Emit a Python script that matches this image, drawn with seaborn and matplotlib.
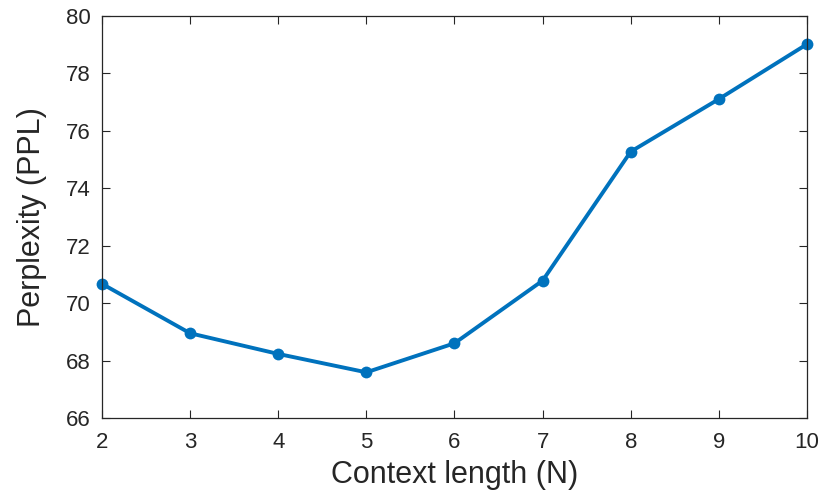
import pandas as pd
import matplotlib.pyplot as plt
import seaborn as sns

# Values
context_length = [2, 3, 4, 5, 6, 7, 8, 9, 10]
perplexity = [70.67, 68.95, 68.23, 67.59, 68.60, 70.78, 75.27, 77.10, 79.01]
y_ticks = [66, 68, 70, 72, 74, 76, 78, 80]

df = pd.DataFrame({"N": context_length, "PPL": perplexity})

sns.set_theme(style="ticks")
plt.rcParams["font.family"] = ["Liberation Sans", "DejaVu Sans"]
text_color = "#262626"

fig = plt.figure(figsize=(8.19, 4.92), dpi=100)
ax = fig.add_axes([0.1245, 0.1504, 0.8608, 0.8176])

sns.lineplot(data=df, x="N", y="PPL", ax=ax, color="#0072BD", linewidth=2.8,
             marker="o", markersize=8.5, markeredgewidth=0, clip_on=False)

ax.set_xlim(2, 10)
ax.set_ylim(66, 80)
ax.set_xticks(context_length)
ax.set_yticks(y_ticks)
ax.set_xlabel("Context length (N)", fontsize=22, color=text_color, labelpad=5)
ax.set_ylabel("Perplexity (PPL)", fontsize=22, color=text_color, labelpad=14)

ax.tick_params(direction="in", length=6, width=0.8, top=True, right=True,
               labelsize=16, labelcolor=text_color, color=text_color)
ax.tick_params(axis="x", pad=10)
ax.tick_params(axis="y", pad=8)
for s in ax.spines.values():
    s.set_visible(True)
    s.set_color(text_color)
    s.set_linewidth(0.9)

fig.savefig("out.png", dpi=100)
